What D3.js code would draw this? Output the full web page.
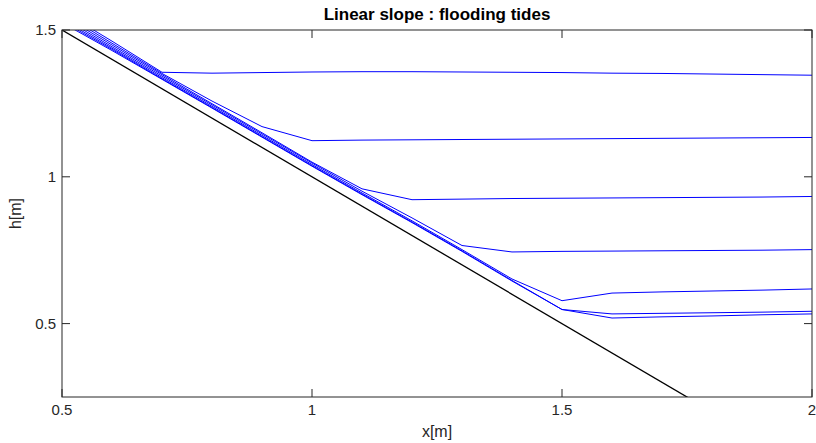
<html>
<head>
<meta charset="utf-8">
<script src="https://d3js.org/d3.v7.min.js"></script>
<style>
  body { margin: 0; background: #fff; }
  text { font-family: "Liberation Sans", Arial, sans-serif; fill: #262626; }
</style>
</head>
<body>
<script>
const W = 816, H = 443;
const margin = { top: 30, right: 4, bottom: 46, left: 62 };

// grid points along the slope
const xs = [0.5, 0.6, 0.7, 0.8, 0.9, 1.0, 1.1, 1.2, 1.3, 1.4, 1.5, 1.6, 1.7, 1.8, 1.9, 2.0];

// bed profile (linear slope)
const bedX = [0.5, 2.0];
const bedH = [1.5, 0.0];

// water level curves, one per tide stage
const hA = [1.565, 1.462, 1.356, 1.353, 1.355, 1.357, 1.358, 1.358, 1.357, 1.356, 1.355, 1.353, 1.352, 1.350, 1.348, 1.346];
const hB = [1.558, 1.455, 1.352, 1.258, 1.171, 1.123, 1.125, 1.126, 1.127, 1.128, 1.129, 1.130, 1.131, 1.132, 1.133, 1.134];
const hC = [1.55, 1.449, 1.348, 1.249, 1.150, 1.050, 0.959, 0.922, 0.924, 0.926, 0.927, 0.928, 0.929, 0.930, 0.931, 0.933];
const hD = [1.543, 1.443, 1.343, 1.245, 1.146, 1.047, 0.951, 0.860, 0.766, 0.744, 0.746, 0.747, 0.748, 0.749, 0.750, 0.752];
const hE = [1.536, 1.438, 1.338, 1.240, 1.141, 1.042, 0.945, 0.850, 0.752, 0.652, 0.578, 0.604, 0.608, 0.611, 0.614, 0.618];
const hF = [1.53, 1.434, 1.334, 1.236, 1.137, 1.038, 0.941, 0.846, 0.748, 0.647, 0.548, 0.533, 0.535, 0.537, 0.539, 0.542];
const hG = [1.525, 1.43, 1.332, 1.234, 1.135, 1.036, 0.939, 0.844, 0.746, 0.645, 0.548, 0.519, 0.523, 0.526, 0.530, 0.533];
const curves = [hA, hB, hC, hD, hE, hF, hG];

const xTicks = [0.5, 1, 1.5, 2];
const yTicks = [0.5, 1, 1.5];

const svg = d3.select("body").append("svg").attr("width", W).attr("height", H);

const x = d3.scaleLinear().domain([0.5, 2]).range([margin.left, W - margin.right]);
const y = d3.scaleLinear().domain([0.25, 1.5]).range([H - margin.bottom, margin.top]);

svg.append("clipPath").attr("id", "clip")
  .append("rect")
  .attr("x", x(0.5)).attr("y", y(1.5))
  .attr("width", x(2) - x(0.5)).attr("height", y(0.25) - y(1.5));

const plot = svg.append("g").attr("clip-path", "url(#clip)");

const line = d3.line().x(d => x(d[0])).y(d => y(d[1]));

plot.append("path")
  .datum(bedX.map((v, i) => [v, bedH[i]]))
  .attr("d", line)
  .attr("fill", "none").attr("stroke", "#000").attr("stroke-width", 1.3);

plot.selectAll("path.curve").data(curves).join("path")
  .attr("class", "curve")
  .attr("d", c => line(xs.map((v, i) => [v, c[i]])))
  .attr("fill", "none").attr("stroke", "#0000ff").attr("stroke-width", 1);

// axes box with inward ticks on all sides
const tl = 8;
const ax = svg.append("g").attr("stroke", "#262626").attr("stroke-width", 1).attr("fill", "none");
ax.append("rect")
  .attr("x", x(0.5)).attr("y", y(1.5))
  .attr("width", x(2) - x(0.5)).attr("height", y(0.25) - y(1.5));

xTicks.forEach(t => {
  ax.append("line").attr("x1", x(t)).attr("x2", x(t)).attr("y1", y(0.25)).attr("y2", y(0.25) - tl);
  ax.append("line").attr("x1", x(t)).attr("x2", x(t)).attr("y1", y(1.5)).attr("y2", y(1.5) + tl);
});
yTicks.forEach(t => {
  ax.append("line").attr("y1", y(t)).attr("y2", y(t)).attr("x1", x(0.5)).attr("x2", x(0.5) + tl);
  ax.append("line").attr("y1", y(t)).attr("y2", y(t)).attr("x1", x(2)).attr("x2", x(2) - tl);
});

svg.selectAll("text.xt").data(xTicks).join("text")
  .attr("class", "xt")
  .attr("x", d => x(d)).attr("y", y(0.25) + 18)
  .attr("text-anchor", "middle").attr("font-size", 15)
  .text(d => d3.format("")(d));

svg.selectAll("text.yt").data(yTicks).join("text")
  .attr("class", "yt")
  .attr("x", x(0.5) - 6).attr("y", d => y(d) + 5)
  .attr("text-anchor", "end").attr("font-size", 15)
  .text(d => d3.format("")(d));

svg.append("text")
  .attr("x", (x(0.5) + x(2)) / 2).attr("y", 437)
  .attr("text-anchor", "middle").attr("font-size", 16)
  .text("x[m]");

svg.append("text")
  .attr("transform", `translate(21, ${(y(0.25) + y(1.5)) / 2}) rotate(-90)`)
  .attr("text-anchor", "middle").attr("font-size", 16)
  .text("h[m]");

svg.append("text")
  .attr("x", (x(0.5) + x(2)) / 2).attr("y", 20)
  .attr("text-anchor", "middle").attr("font-size", 17).attr("font-weight", "bold")
  .style("fill", "#000")
  .text("Linear slope : flooding tides");
</script>
</body>
</html>
